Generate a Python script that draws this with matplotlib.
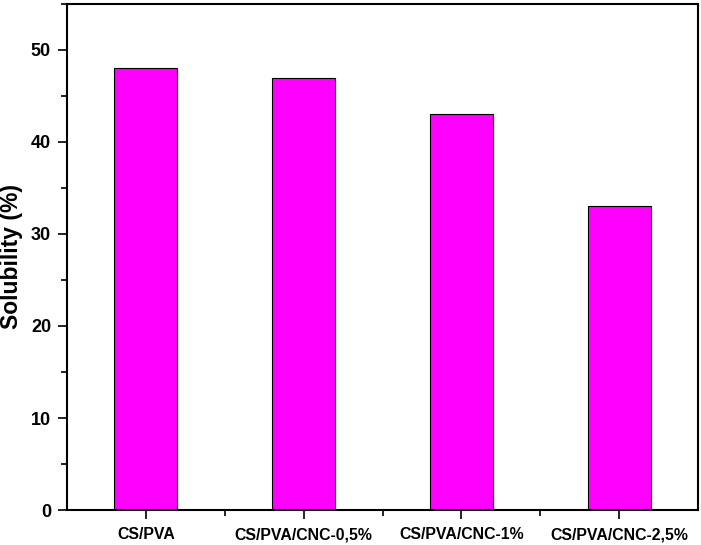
import matplotlib
matplotlib.use("Agg")
import matplotlib.pyplot as plt
from matplotlib.ticker import MultipleLocator, FixedLocator

categories = ["CS/PVA", "CS/PVA/CNC-0,5%", "CS/PVA/CNC-1%", "CS/PVA/CNC-2,5%"]
solubility = [48, 47, 43, 33]

plt.rcParams['font.family'] = ['Liberation Sans', 'DejaVu Sans']
plt.rcParams['font.weight'] = 'bold'

fig = plt.figure(figsize=(7.01, 5.45), dpi=100)
ax = fig.add_axes([0.0956, 0.0642, 0.9001, 0.9285])

x = list(range(len(categories)))
ax.bar(x, solubility, width=0.4, color='#ff00ff', edgecolor='black', linewidth=0.8)

ax.set_xlim(-0.5, 3.5)
ax.set_ylim(0, 55)
ax.set_xticks(x)
ax.set_xticklabels(categories, fontsize=11.4, fontweight='bold')
ax.xaxis.set_minor_locator(FixedLocator([0.5, 1.5, 2.5]))
ax.yaxis.set_major_locator(MultipleLocator(10))
ax.yaxis.set_minor_locator(MultipleLocator(5))
for lab in ax.get_yticklabels():
    lab.set_fontsize(13)
    lab.set_fontweight('bold')

ax.tick_params(axis='both', which='major', direction='out', length=6.5, width=1.2, pad=5)
ax.tick_params(axis='both', which='minor', direction='out', length=4, width=1.2)
ax.tick_params(axis='x', which='major', pad=6)
for s in ax.spines.values():
    s.set_linewidth(1.5)

ax.set_ylabel("Solubility (%)", fontsize=16.5, fontweight='bold', labelpad=6)

fig.savefig("out.png", dpi=100)
